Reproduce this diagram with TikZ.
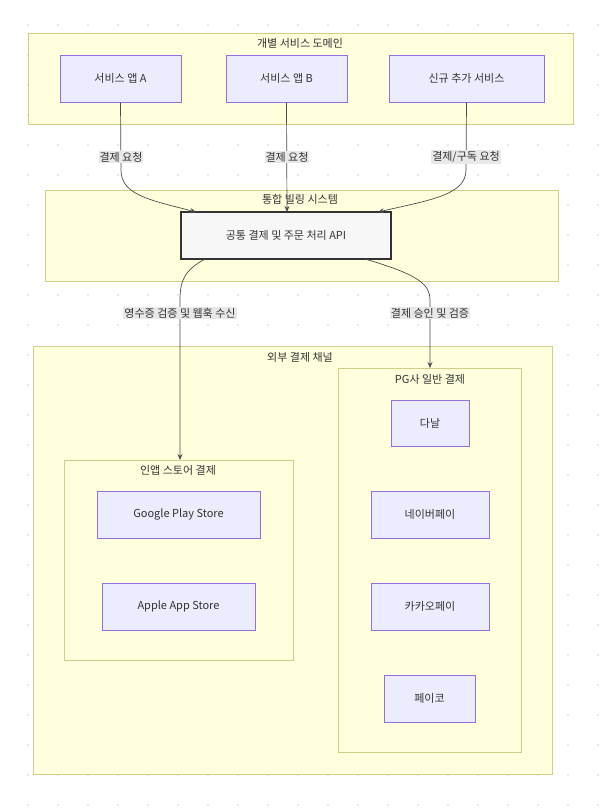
\documentclass[tikz,border=0pt]{standalone}
\usepackage{fontspec}
\setmainfont{Noto Sans CJK KR}
\usetikzlibrary{arrows.meta}
\definecolor{grpfill}{HTML}{FFFFDE}
\definecolor{grpline}{HTML}{CFCF8A}
\definecolor{nodefill}{HTML}{ECECFF}
\definecolor{nodeline}{HTML}{9370DB}
\definecolor{lblfill}{HTML}{E8E8E8}
\begin{document}
\begin{tikzpicture}[x=1pt,y=-1pt,
  grp/.style={draw=grpline,fill=grpfill,line width=0.8pt},
  grptitle/.style={font=\fontsize{11}{13}\selectfont,text=black!80,inner sep=1pt},
  box/.style={draw=nodeline,fill=nodefill,line width=0.8pt,font=\fontsize{11}{13}\selectfont,text=black!80},
  lbl/.style={fill=lblfill,font=\fontsize{11}{13}\selectfont,text=black!80,inner sep=1pt},
  edge/.style={draw=black!70,line width=0.7pt,-{Stealth[length=6pt,width=5pt]}},
  plain/.style={draw=black!70,line width=0.7pt}]
\useasboundingbox (0,0) rectangle (602,809);
\fill[white] (0,0) rectangle (602,809);
\foreach \i in {0,...,19}{\foreach \j in {0,...,26}{\fill[black!12] (28+30*\i,25+30*\j) circle (1.2);}}
% groups
\draw[grp] (28,33) rectangle (573,124);
\node[grptitle] (g1) at (300,43) {개별 서비스 도메인};
\draw[grp] (45,190) rectangle (558,281);
\node[grptitle] (g2) at (300,199) {통합 빌링 시스템};
\draw[grp] (33,346) rectangle (552,774);
\node[grptitle] (g3) at (300,357) {외부 결제 채널};
\draw[grp] (64,460) rectangle (293,660);
\coordinate (inapptop) at (180,460);
\node[grptitle] (g4) at (178,470) {인앱 스토어 결제};
\draw[grp] (338,368) rectangle (521,752);
\coordinate (pgtop) at (430,368);
\node[grptitle] (g5) at (430,379) {PG사 일반 결제};
% nodes
\node[box,minimum width=121pt,minimum height=47pt] (a) at (120.5,78.5) {서비스 앱 A};
\node[box,minimum width=121pt,minimum height=47pt] (b) at (286.5,78.5) {서비스 앱 B};
\node[box,minimum width=155pt,minimum height=47pt] (n) at (466.5,78.5) {신규 추가 서비스};
\node[draw=black!80,fill=black!3,line width=1.3pt,minimum width=210pt,minimum height=47pt,font=\fontsize{11}{13}\selectfont,text=black!80] (api) at (286,235.5) {공통 결제 및 주문 처리 API};
\node[box,minimum width=163pt,minimum height=47pt] (gp) at (178.5,514.5) {Google Play Store};
\node[box,minimum width=153pt,minimum height=47pt] (ap) at (178.5,606.5) {Apple App Store};
\node[box,minimum width=78pt,minimum height=46pt] (d) at (430,423) {다날};
\node[box,minimum width=118pt,minimum height=47pt] (nv) at (430,514.5) {네이버페이};
\node[box,minimum width=118pt,minimum height=47pt] (kk) at (430,606.5) {카카오페이};
\node[box,minimum width=91pt,minimum height=47pt] (pc) at (429.5,698.5) {페이코};
% edges
\draw[edge] (a.south) -- (121,170) .. controls (121,195) and (150,200) .. (196,212);
\draw[edge] (b.south) -- (287,212);
\draw[edge] (n.south) -- (466,170) .. controls (466,195) and (430,200) .. (378,212);
\draw[edge] (205,259) .. controls (185,270) and (180,280) .. (180,300) -- (inapptop);
\draw[edge] (365,259) .. controls (420,275) and (430,285) .. (430,300) -- (pgtop);
\node[lbl] (l1) at (121,157) {결제 요청};
\node[lbl] (l2) at (287,157) {결제 요청};
\node[lbl] (l3) at (466,157) {결제/구독 요청};
\node[lbl] (l4) at (180,313) {영수증 검증 및 웹훅 수신};
\node[lbl] (l5) at (430,313) {결제 승인 및 검증};
\end{tikzpicture}
\end{document}
